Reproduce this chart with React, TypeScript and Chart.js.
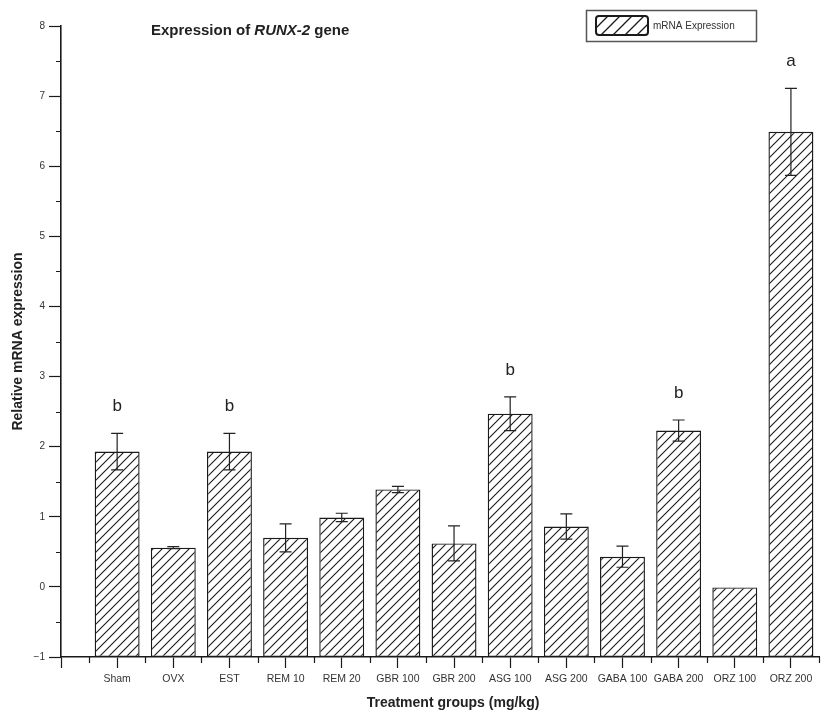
import React, { useEffect, useRef } from 'react';
import { Chart, registerables } from 'chart.js';

Chart.register(...registerables);

const FONT = '"Liberation Sans", Arial, Helvetica, sans-serif';

// ---- data ----
const categories = ['Sham', 'OVX', 'EST', 'REM 10', 'REM 20', 'GBR 100', 'GBR 200', 'ASG 100', 'ASG 200', 'GABA 100', 'GABA 200', 'ORZ 100', 'ORZ 200'];
const means = [1.93, 0.56, 1.93, 0.70, 0.99, 1.39, 0.62, 2.47, 0.86, 0.43, 2.23, 0.0, 6.49];
const errors = [0.26, 0.015, 0.26, 0.20, 0.06, 0.045, 0.25, 0.24, 0.18, 0.15, 0.15, 0.0, 0.62];
const letters = ['b', '', 'b', '', '', '', '', 'b', '', '', 'b', '', 'a'];
const yTicks = [-1, 0, 1, 2, 3, 4, 5, 6, 7, 8];
const seriesLabel = 'mRNA Expression';
const titlePlain1 = 'Expression of ';
const titleItalic = 'RUNX-2';
const titlePlain2 = ' gene';
const xTitle = 'Treatment groups (mg/kg)';
const yTitle = 'Relative mRNA expression';
const baseValue = -1;

function makeHatch(size: number, width: number) {
  const c = document.createElement('canvas');
  c.width = size;
  c.height = size;
  const g = c.getContext('2d') as CanvasRenderingContext2D;
  g.fillStyle = '#ffffff';
  g.fillRect(0, 0, size, size);
  g.strokeStyle = '#1a1a1a';
  g.lineWidth = width;
  g.beginPath();
  g.moveTo(-1, size + 1);
  g.lineTo(size + 1, -1);
  g.moveTo(-1, 1);
  g.lineTo(1, -1);
  g.moveTo(size - 1, size + 1);
  g.lineTo(size + 1, size - 1);
  g.stroke();
  return g.createPattern(c, 'repeat') as CanvasPattern;
}

const overlayPlugin = {
  id: 'overlay',
  afterDatasetsDraw(chart: any) {
    const ctx = chart.ctx as CanvasRenderingContext2D;
    const xs = chart.scales.x;
    const ys = chart.scales.y;
    ctx.save();
    // error bars
    ctx.strokeStyle = '#222';
    ctx.lineWidth = 1.2;
    means.forEach((m, i) => {
      const e = errors[i];
      if (!e) return;
      const x = xs.getPixelForValue(i + 1);
      const yt = ys.getPixelForValue(m + e);
      const yb = ys.getPixelForValue(m - e);
      ctx.beginPath();
      ctx.moveTo(x, yt);
      ctx.lineTo(x, yb);
      ctx.moveTo(x - 6, yt);
      ctx.lineTo(x + 6, yt);
      ctx.moveTo(x - 6, yb);
      ctx.lineTo(x + 6, yb);
      ctx.stroke();
    });
    // significance letters
    ctx.fillStyle = '#222';
    ctx.font = `17px ${FONT}`;
    ctx.textAlign = 'center';
    ctx.textBaseline = 'middle';
    letters.forEach((l, i) => {
      if (!l) return;
      const x = xs.getPixelForValue(i + 1);
      const y = ys.getPixelForValue(means[i] + errors[i]) - 27;
      ctx.fillText(l, x, y);
    });
    ctx.restore();
  },
  afterDraw(chart: any) {
    const ctx = chart.ctx as CanvasRenderingContext2D;
    const xs = chart.scales.x;
    const ys = chart.scales.y;
    const area = chart.chartArea;
    ctx.save();
    // minor ticks
    ctx.strokeStyle = '#1a1a1a';
    ctx.lineWidth = 1.2;
    ctx.beginPath();
    for (let v = -0.5; v < 8; v += 1) {
      const y = Math.round(ys.getPixelForValue(v)) + 0.5;
      ctx.moveTo(area.left - 5, y);
      ctx.lineTo(area.left, y);
    }
    for (let v = 0.5; v <= 13.5; v += 1) {
      const x = Math.round(xs.getPixelForValue(v)) + 0.5;
      ctx.moveTo(x, area.bottom);
      ctx.lineTo(x, area.bottom + 6);
    }
    ctx.stroke();

    // chart title with italic gene name
    ctx.fillStyle = '#222';
    ctx.textBaseline = 'alphabetic';
    ctx.textAlign = 'left';
    let tx = 151;
    const ty = 35;
    ctx.font = `bold 15px ${FONT}`;
    ctx.fillText(titlePlain1, tx, ty);
    tx += ctx.measureText(titlePlain1).width;
    ctx.font = `italic bold 15px ${FONT}`;
    ctx.fillText(titleItalic, tx, ty);
    tx += ctx.measureText(titleItalic).width;
    ctx.font = `bold 15px ${FONT}`;
    ctx.fillText(titlePlain2, tx, ty);

    // x axis title
    ctx.font = `bold 14px ${FONT}`;
    ctx.textAlign = 'center';
    ctx.textBaseline = 'middle';
    ctx.fillText(xTitle, 453, 703);

    // legend
    const ds = chart.data.datasets[0];
    ctx.strokeStyle = '#555';
    ctx.lineWidth = 1.5;
    ctx.strokeRect(586.5, 10.5, 170, 31);
    ctx.fillStyle = makeHatch(12, 1.3);
    ctx.beginPath();
    (ctx as any).roundRect(596, 16, 52, 19, 3);
    ctx.fill();
    ctx.strokeStyle = '#1a1a1a';
    ctx.lineWidth = 2;
    ctx.stroke();
    ctx.fillStyle = '#333';
    ctx.font = `10px ${FONT}`;
    ctx.textAlign = 'left';
    ctx.textBaseline = 'middle';
    ctx.fillText(ds.label, 653, 26);
    ctx.restore();
  },
};

export default function App() {
  const ref = useRef<HTMLCanvasElement | null>(null);

  useEffect(() => {
    if (!ref.current) return;
    const hatch = makeHatch(9, 1.1);
    const chart = new Chart(ref.current, {
      type: 'bar',
      data: {
        datasets: [
          {
            label: seriesLabel,
            data: categories.map((_, i) => ({ x: i + 1, y: [baseValue, means[i]] })) as any,
            backgroundColor: hatch as any,
            borderColor: '#1a1a1a',
            borderWidth: 1.4,
            borderSkipped: false,
            barPercentage: 1,
            categoryPercentage: 0.8,
          },
        ],
      },
      options: {
        responsive: false,
        animation: false,
        devicePixelRatio: 1,
        layout: { padding: { top: 26, right: 19, left: 0, bottom: 0 } },
        plugins: {
          legend: { display: false },
          tooltip: { enabled: false },
          title: { display: false },
        },
        scales: {
          x: {
            type: 'linear',
            min: 0,
            max: 13.5,
            offset: false,
            afterBuildTicks: (s: any) => {
              s.ticks = [0, ...categories.map((_, i) => i + 1)].map((v) => ({ value: v }));
            },
            afterFit: (s: any) => {
              s.height = 58;
            },
            ticks: {
              autoSkip: false,
              maxRotation: 0,
              minRotation: 0,
              padding: 5,
              color: '#333',
              font: { family: FONT, size: 10.5 },
              callback: (v: any) => categories[Number(v) - 1] ?? '',
            },
            grid: {
              display: true,
              drawOnChartArea: false,
              drawTicks: true,
              tickLength: 11,
              tickColor: '#1a1a1a',
              tickWidth: 1.2,
              offset: false,
            },
            border: { display: true, color: '#1a1a1a', width: 1.6 },
          } as any,
          y: {
            type: 'linear',
            min: yTicks[0],
            max: yTicks[yTicks.length - 1],
            afterBuildTicks: (s: any) => {
              s.ticks = yTicks.map((v) => ({ value: v }));
            },
            afterFit: (s: any) => {
              s.width = 61;
            },
            ticks: {
              padding: 4,
              color: '#333',
              font: { family: FONT, size: 10 },
              callback: (v: any) => (Number(v) < 0 ? '\u2212' + Math.abs(Number(v)) : String(v)),
            },
            grid: {
              display: true,
              drawOnChartArea: false,
              drawTicks: true,
              tickLength: 12,
              tickColor: '#1a1a1a',
              tickWidth: 1.2,
            },
            border: { display: true, color: '#1a1a1a', width: 1.6 },
            title: {
              display: true,
              text: yTitle,
              color: '#222',
              font: { family: FONT, size: 14, weight: 'bold' },
              padding: { top: 10, bottom: 0 },
            },
          } as any,
        },
      },
      plugins: [overlayPlugin],
    });
    return () => chart.destroy();
  }, []);

  return (
    <div style={{ position: 'absolute', left: 0, top: 0, width: 838, height: 715, background: '#fff' }}>
      <canvas ref={ref} width={838} height={715} style={{ display: 'block', width: 838, height: 715 }} />
    </div>
  );
}
